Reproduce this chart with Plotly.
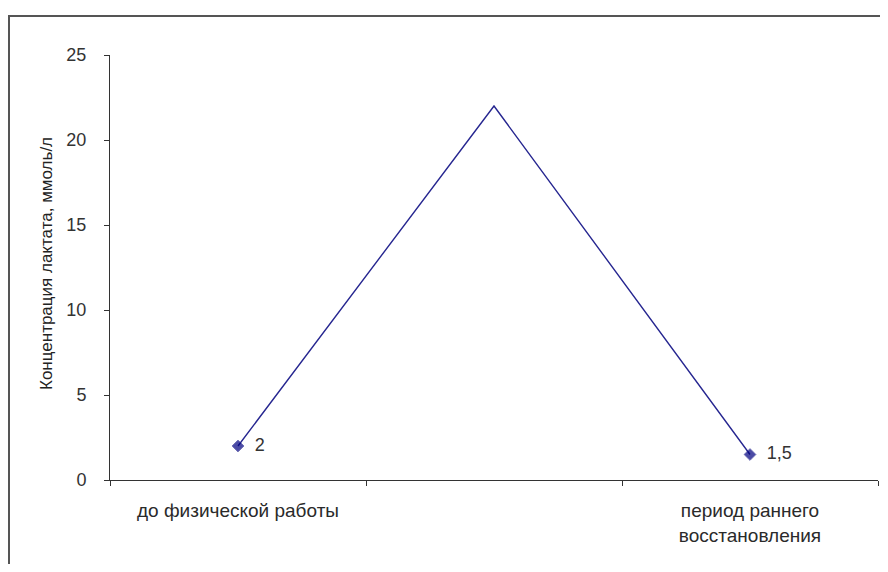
import plotly.graph_objects as go

categories = ["до физической работы", " ", "период раннего<br>восстановления"]
lactate = [2, 22, 1.5]
label_points = [True, False, True]
y_ticks = [0, 5, 10, 15, 20, 25]

def fmt(v):
    return ("%g" % v).replace(".", ",")

texts = [fmt(v) if show else "" for v, show in zip(lactate, label_points)]
sizes = [9 if show else 0 for show in label_points]

# page body has an 8px margin, so the figure is drawn 8px right/down
OFF = 8
W, H = 872, 556
L, R, T, B = 102, 2, 47, 84
pw, ph = W - L - R, H - T - B

FONT = "Liberation Sans, Arial"

fig = go.Figure()
fig.add_trace(go.Scatter(
    x=categories, y=lactate, mode="lines+markers+text",
    line=dict(color="#262690", width=1.4),
    marker=dict(symbol="diamond", size=sizes, color="#000080"),
    text=["  " + t if t else "" for t in texts], textposition="middle right",
    textfont=dict(family=FONT, size=18, color="#333333"),
    hoverinfo="skip", showlegend=False, cliponaxis=False,
))

def px_x(p):  # screen pixel -> paper
    return (p - OFF - L) / pw

def px_y(p):
    return (H - B - (p - OFF)) / ph

fig.add_shape(type="rect", xref="paper", yref="paper",
              x0=px_x(9), x1=px_x(920), y0=px_y(620), y1=px_y(16),
              line=dict(color="#555555", width=2), fillcolor="rgba(0,0,0,0)")

fig.add_annotation(text="Концентрация лактата, ммоль/л", xref="paper", yref="paper",
                   x=px_x(46), y=px_y(264), xanchor="center", yanchor="middle",
                   textangle=-90, showarrow=False,
                   font=dict(family=FONT, size=17, color="#222222"))

fig.update_layout(
    width=W, height=H,
    margin=dict(l=L, r=R, t=T, b=B),
    paper_bgcolor="white", plot_bgcolor="white",
    font=dict(family=FONT, size=18, color="#333333"),
    xaxis=dict(type="category", tickson="boundaries", ticks="outside", ticklen=5,
               tickcolor="#333333", showline=True, linecolor="#333333", linewidth=1,
               showgrid=False, zeroline=False, range=[-0.5, 2.5],
               tickfont=dict(family=FONT, size=19, color="#2a2a2a"), ticklabelstandoff=13),
    yaxis=dict(range=[0, 25], tickvals=y_ticks, ticks="outside", ticklen=5,
               tickcolor="#333333", showline=True, linecolor="#333333", linewidth=1,
               showgrid=False, zeroline=False,
               tickfont=dict(family=FONT, size=18, color="#333333"), ticklabelstandoff=14),
)

fig.write_html("out.html")
